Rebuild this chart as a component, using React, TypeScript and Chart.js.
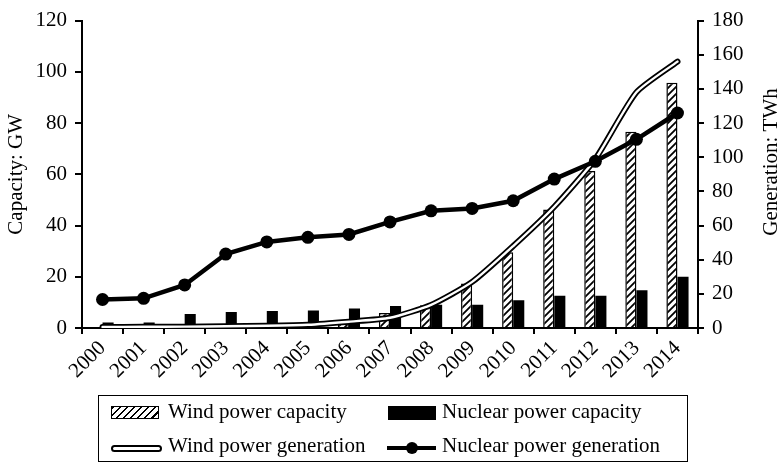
import React, { useEffect, useRef } from 'react';
import { Chart, registerables } from 'chart.js';

Chart.register(...registerables);

// ---- Data ----
const years = ['2000', '2001', '2002', '2003', '2004', '2005', '2006', '2007', '2008', '2009', '2010', '2011', '2012', '2013', '2014'];
const windCapacity = [0.34, 0.4, 0.47, 0.57, 0.76, 1.27, 2.6, 5.9, 8.9, 17.4, 29.6, 46.3, 61.3, 76.6, 95.7];
const nuclearCapacity = [2.1, 2.1, 5.5, 6.2, 6.6, 6.8, 7.6, 8.6, 9.1, 9.1, 10.8, 12.6, 12.6, 14.7, 20.0];
const windGeneration = [0.6, 0.7, 0.8, 1.0, 1.3, 1.9, 3.7, 6.0, 13.5, 27.0, 48.0, 71.0, 99.0, 138.0, 156.0];
const nuclearGeneration = [16.7, 17.4, 25.2, 43.3, 50.4, 53.1, 54.8, 62.1, 68.6, 70.0, 74.5, 87.2, 97.6, 110.5, 125.9];

const capacityMax = 120;
const generationMax = 180;
const tickStep = 20;

const leftTitle = 'Capacity: GW';
const rightTitle = 'Generation: TWh';
const legendWindCap = 'Wind power capacity';
const legendNuclearCap = 'Nuclear power capacity';
const legendWindGen = 'Wind power generation';
const legendNuclearGen = 'Nuclear power generation';

const FONT = '"Liberation Serif", "Times New Roman", serif';
const FS = 21;
const W = 779;
const H = 466;

function makeHatch(): CanvasPattern | string {
  const size = 7;
  const c = document.createElement('canvas');
  c.width = size;
  c.height = size;
  const g = c.getContext('2d');
  if (!g) return '#fff';
  g.fillStyle = '#fff';
  g.fillRect(0, 0, size, size);
  g.strokeStyle = '#000';
  g.lineWidth = 1.8;
  g.beginPath();
  g.moveTo(-1, size + 1);
  g.lineTo(size + 1, -1);
  g.moveTo(-1, 1);
  g.lineTo(1, -1);
  g.moveTo(size - 1, size + 1);
  g.lineTo(size + 1, size - 1);
  g.stroke();
  const p = g.createPattern(c, 'repeat');
  return p || '#fff';
}

const rightTitlePlugin = {
  id: 'rightTitle',
  afterDraw(chart: any) {
    const ctx = chart.ctx;
    ctx.save();
    ctx.translate(chart.width - 8, 162);
    ctx.rotate(-Math.PI / 2);
    ctx.font = `${FS}px ${FONT}`;
    ctx.fillStyle = '#000';
    ctx.textAlign = 'center';
    ctx.textBaseline = 'middle';
    ctx.fillText(rightTitle, 0, 0);
    ctx.restore();
  },
};

export default function App() {
  const ref = useRef<HTMLCanvasElement | null>(null);

  useEffect(() => {
    if (!ref.current) return;
    const hatch = makeHatch();
    const tickFont = { family: FONT, size: FS };
    const chart = new Chart(ref.current, {
      type: 'bar',
      data: {
        labels: years,
        datasets: [
          {
            type: 'line',
            label: legendNuclearGen,
            data: nuclearGeneration,
            yAxisID: 'y2',
            borderColor: '#000',
            backgroundColor: '#000',
            borderWidth: 4.5,
            pointRadius: 6.5,
            pointBackgroundColor: '#000',
            pointBorderWidth: 0,
            order: 0,
          } as any,
          {
            type: 'line',
            label: legendWindGen + ' (inner)',
            data: windGeneration,
            yAxisID: 'y2',
            borderColor: '#fff',
            borderWidth: 2.4,
            pointRadius: 0,
            tension: 0.2,
            borderCapStyle: 'round',
            order: 1,
          } as any,
          {
            type: 'line',
            label: legendWindGen,
            data: windGeneration,
            yAxisID: 'y2',
            borderColor: '#000',
            borderWidth: 6,
            pointRadius: 0,
            tension: 0.2,
            borderCapStyle: 'round',
            order: 2,
          } as any,
          {
            type: 'bar',
            label: legendWindCap,
            data: windCapacity,
            yAxisID: 'y',
            backgroundColor: hatch as any,
            borderColor: '#000',
            borderWidth: 1.5,
            categoryPercentage: 0.54,
            barPercentage: 1.0,
            order: 3,
          } as any,
          {
            type: 'bar',
            label: legendNuclearCap,
            data: nuclearCapacity,
            yAxisID: 'y',
            backgroundColor: '#000',
            borderWidth: 0,
            categoryPercentage: 0.54,
            barPercentage: 1.0,
            order: 4,
          } as any,
        ],
      },
      options: {
        responsive: false,
        animation: false,
        devicePixelRatio: 1,
        layout: { padding: { top: 15, left: 0, right: 0, bottom: 0 } },
        plugins: {
          legend: { display: false },
          tooltip: { enabled: false },
          title: { display: false },
        },
        scales: {
          x: {
            offset: true,
            grid: {
              display: true,
              drawOnChartArea: false,
              drawTicks: true,
              tickLength: 6,
              color: '#000',
              lineWidth: 2,
              offset: true,
            },
            border: { display: true, color: '#000', width: 2 },
            ticks: {
              color: '#000',
              font: tickFont,
              minRotation: 45,
              maxRotation: 45,
              autoSkip: false,
              padding: 2,
            },
            afterFit: (s: any) => {
              s.height = H - 328;
            },
          },
          y: {
            position: 'left',
            min: 0,
            max: capacityMax,
            ticks: { stepSize: tickStep, color: '#000', font: tickFont, padding: 8 },
            grid: { display: true, drawOnChartArea: false, drawTicks: true, tickLength: 7, color: '#000', lineWidth: 2 },
            border: { display: true, color: '#000', width: 2 },
            title: {
              display: true,
              text: leftTitle,
              color: '#000',
              font: { family: FONT, size: FS },
              padding: { top: 4, bottom: 0 },
            },
            afterFit: (s: any) => {
              s.width = 82;
            },
          },
          y2: {
            position: 'right',
            min: 0,
            max: generationMax,
            ticks: { stepSize: tickStep, color: '#000', font: tickFont, padding: 8 },
            grid: { display: true, drawOnChartArea: false, drawTicks: true, tickLength: 6, color: '#000', lineWidth: 2 },
            border: { display: true, color: '#000', width: 2 },
            afterFit: (s: any) => {
              s.width = W - 698;
            },
          },
        },
      } as any,
      plugins: [rightTitlePlugin],
    });
    return () => chart.destroy();
  }, []);

  const textStyle: React.CSSProperties = {
    position: 'absolute',
    fontFamily: FONT,
    fontSize: FS,
    lineHeight: '24px',
    color: '#000',
    whiteSpace: 'nowrap',
  };

  return (
    <div
      style={{
        position: 'fixed',
        left: 0,
        top: 0,
        width: W,
        height: H,
        overflow: 'hidden',
        background: '#fff',
      }}
    >
      <canvas ref={ref} width={W} height={H} style={{ position: 'absolute', left: 0, top: 0, width: W, height: H }} />
      {/* Legend */}
      <div
        style={{
          position: 'absolute',
          left: 98,
          top: 395,
          width: 590,
          height: 67,
          border: '1.5px solid #000',
          boxSizing: 'border-box',
        }}
      />
      <div
        style={{
          position: 'absolute',
          left: 111,
          top: 406,
          width: 48,
          height: 13,
          border: '1.5px solid #000',
          boxSizing: 'border-box',
          background: 'repeating-linear-gradient(135deg, #000 0px, #000 1.8px, #fff 1.8px, #fff 5px)',
        }}
      />
      <div style={{ ...textStyle, left: 168, top: 399 }}>{legendWindCap}</div>
      <div style={{ position: 'absolute', left: 388, top: 406, width: 48, height: 14, background: '#000' }} />
      <div style={{ ...textStyle, left: 442, top: 399 }}>{legendNuclearCap}</div>
      <div
        style={{
          position: 'absolute',
          left: 111,
          top: 445,
          width: 51,
          height: 7,
          border: '2px solid #000',
          borderRadius: 3.5,
          boxSizing: 'border-box',
          background: '#fff',
        }}
      />
      <div style={{ ...textStyle, left: 168, top: 433 }}>{legendWindGen}</div>
      <div style={{ position: 'absolute', left: 387, top: 446, width: 49, height: 4, background: '#000' }} />
      <div
        style={{
          position: 'absolute',
          left: 406,
          top: 442,
          width: 12,
          height: 12,
          borderRadius: 6,
          background: '#000',
        }}
      />
      <div style={{ ...textStyle, left: 442, top: 433 }}>{legendNuclearGen}</div>
    </div>
  );
}
